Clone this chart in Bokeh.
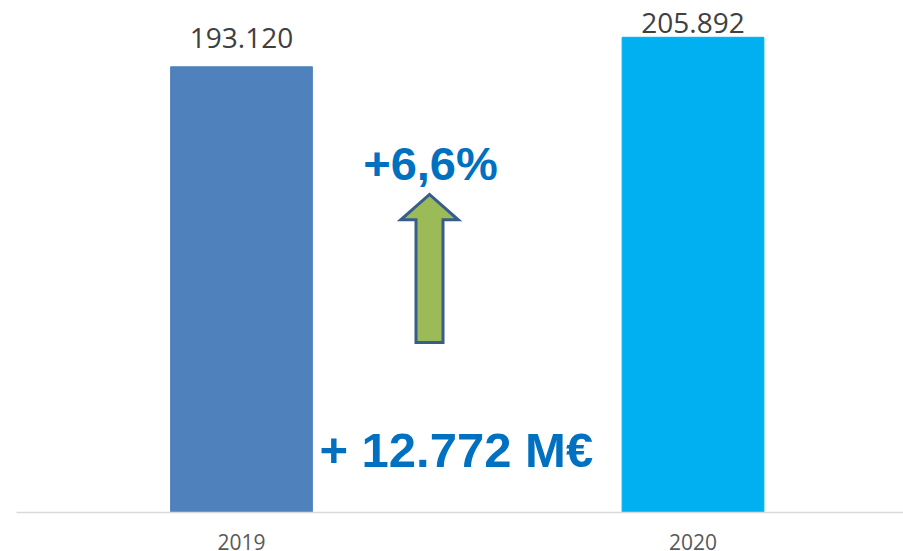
from bokeh.plotting import figure
from bokeh.models import Range1d, FixedTicker, ColumnDataSource, LabelSet, Label
from bokeh.core.properties import value
from bokeh.embed import file_html
from bokeh.resources import INLINE

# ---- data ----
categories = ["2019", "2020"]
values = [193.120, 205.892]
bar_colors = ["#4F81BD", "#00B0F0"]

x_pos = list(range(len(categories)))
diff = values[1] - values[0]
pct = diff / values[0] * 100
pct_text = "+" + f"{pct:.1f}".replace(".", ",") + "%"
diff_text = "+ " + f"{diff:.3f}" + " M€"
value_texts = [f"{v:.3f}" for v in values]

# ---- style / layout ----
label_offsets = [19, 4]
PX_PER_X = 451.5
PX_PER_Y = 2.308
FRAME_W = 887
FRAME_H = 504
x_start = -(241 - 16) / PX_PER_X
x_end = x_start + FRAME_W / PX_PER_X
y_end = FRAME_H / PX_PER_Y

src = ColumnDataSource(dict(x=x_pos, top=values, color=bar_colors,
                            label=value_texts, offset=label_offsets))

p = figure(frame_width=FRAME_W, frame_height=FRAME_H,
           x_range=Range1d(x_start, x_end), y_range=Range1d(0, y_end),
           output_backend="svg", toolbar_location=None, y_axis_location=None,
           min_border_left=16, min_border_right=0, min_border_top=8, min_border_bottom=0,
           outline_line_color=None, background_fill_color="white", border_fill_color="white")

p.vbar(x="x", top="top", width=0.314, color="color", source=src)

p.add_layout(LabelSet(x="x", y="top", text="label", y_offset="offset", source=src,
                      text_align="center", text_baseline="alphabetic",
                      text_font=value("Open Sans"), text_font_size=value("28px"),
                      text_color="#404040"))

# growth arrow (decoration)
ax, tip, base, bottom, hh, sh = 0.4164, 137.8, 126.8, 73.7, 0.0637, 0.0299
arrow_xs = [ax - sh, ax - sh, ax - hh, ax, ax + hh, ax + sh, ax + sh]
arrow_ys = [bottom, base, base, tip, base, base, bottom]
p.patch(arrow_xs, arrow_ys, fill_color="#9BBB59", line_color="#385D8A",
        line_width=3, line_join="miter")

p.add_layout(Label(x=0.4186, y=151.0, text=pct_text, text_align="center",
                   text_baseline="alphabetic", text_font="Liberation Sans",
                   text_font_style="bold", text_font_size="47px", text_color="#0070C0"))
p.add_layout(Label(x=0.4757, y=26.9, text=diff_text, text_align="center",
                   text_baseline="alphabetic", text_font="Liberation Sans",
                   text_font_style="bold", text_font_size="49px", text_color="#0070C0"))

p.xgrid.visible = False
p.ygrid.visible = False
xa = p.xaxis[0]
xa.ticker = FixedTicker(ticks=x_pos)
xa.major_label_overrides = {i: c for i, c in zip(x_pos, categories)}
xa.axis_line_color = "#D9D9D9"
xa.axis_line_width = 1.5
xa.major_tick_line_color = None
xa.minor_tick_line_color = None
xa.major_label_text_font = "Open Sans"
xa.major_label_text_font_size = "21px"
xa.major_label_text_color = "#595959"
xa.major_label_standoff = 15

html = file_html(p, INLINE)
html = html.replace("</head>", "<style>html,body{overflow:hidden;}</style></head>", 1)
open("out.html", "w").write(html)
